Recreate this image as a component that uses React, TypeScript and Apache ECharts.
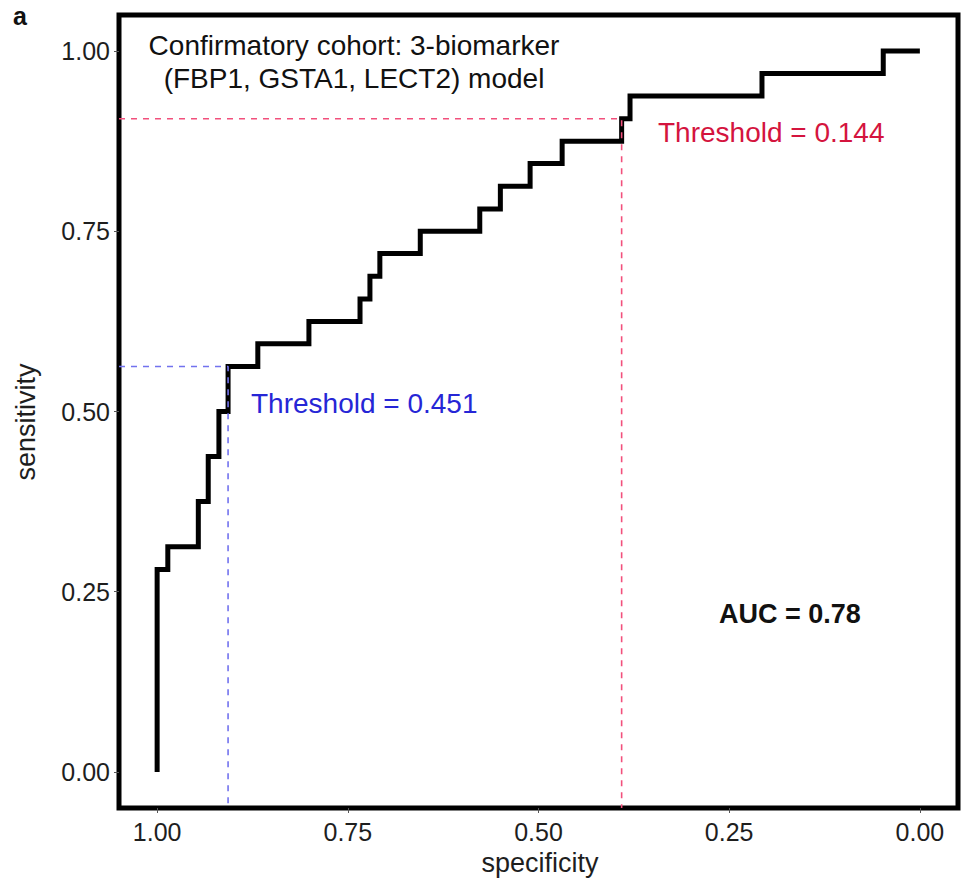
import React, { useEffect, useRef } from 'react';
import * as echarts from 'echarts';

// ---- data ----
const tickValues = [0, 0.25, 0.5, 0.75, 1];
// specificity at which each vertical riser of the ROC step curve occurs
const riserSpecificity = [1.0, 0.986, 0.946, 0.933, 0.919, 0.907, 0.868, 0.801, 0.734, 0.721, 0.708, 0.655, 0.577, 0.55, 0.511, 0.469, 0.391, 0.38, 0.207, 0.048];
// sensitivity level reached after each riser
const stepSensitivity = [0.281, 0.3125, 0.375, 0.4375, 0.5, 0.5625, 0.594, 0.625, 0.656, 0.6875, 0.719, 0.75, 0.781, 0.8125, 0.844, 0.875, 0.906, 0.9375, 0.969, 1.0];
const startSensitivity = 0;
const endSpecificity = 0;

const thresholdSpecificity = [0.907, 0.391];
const thresholdSensitivity = [0.5625, 0.906];
const thresholdLabels = ['Threshold = 0.451', 'Threshold = 0.144'];
const aucLabel = 'AUC = 0.78';
const titleLines = ['Confirmatory cohort: 3-biomarker', '(FBP1, GSTA1, LECT2) model'];
const panelLetter = 'a';
const xName = 'specificity';
const yName = 'sensitivity';

const FONT = '"Liberation Sans", Arial, Helvetica, sans-serif';
const AXMIN = -0.05;
const AXMAX = 1.05;

export default function App() {
  const ref = useRef<HTMLDivElement>(null);

  useEffect(() => {
    document.body.style.margin = '0';
    const chart = echarts.init(ref.current!, null, { renderer: 'svg' });

    const curve: number[][] = [[riserSpecificity[0], startSensitivity]];
    riserSpecificity.forEach((s, i) => {
      curve.push([s, stepSensitivity[i]]);
      const next = i + 1 < riserSpecificity.length ? riserSpecificity[i + 1] : endSpecificity;
      curve.push([next, stepSensitivity[i]]);
    });

    const thresholdColors = ['#7272ee', '#f2507c'];
    const labelColors = ['#2626d6', '#d4143e'];

    const dashSeries = thresholdSpecificity.map((sp, i) => ({
      type: 'line',
      data: [
        [AXMAX, thresholdSensitivity[i]],
        [sp, thresholdSensitivity[i]],
        [sp, AXMIN],
      ],
      symbol: 'none',
      silent: true,
      z: 3,
      lineStyle: { color: thresholdColors[i], width: 1.6, type: [6, 6] },
    }));

    const axisCommon = {
      type: 'value',
      min: AXMIN,
      max: AXMAX,
      axisLine: { show: false, onZero: false },
      splitLine: { show: false },
      axisTick: {
        show: true,
        inside: false,
        length: 5,
        customValues: tickValues,
        lineStyle: { color: '#555', width: 1 },
      },
      axisLabel: {
        customValues: tickValues,
        formatter: (v: number) => v.toFixed(2),
        fontSize: 25,
        fontFamily: FONT,
        color: '#1e1e1e',
      },
    };

    chart.setOption({
      animation: false,
      backgroundColor: '#ffffff',
      grid: {
        left: 119,
        right: 4,
        top: 15,
        bottom: 72,
        show: true,
        borderColor: '#000',
        borderWidth: 5,
        backgroundColor: '#fff',
      },
      xAxis: {
        ...axisCommon,
        inverse: true,
        axisLabel: { ...axisCommon.axisLabel, margin: 11 },
      },
      yAxis: {
        ...axisCommon,
        axisLabel: { ...axisCommon.axisLabel, margin: 9 },
      },
      series: [
        {
          type: 'line',
          data: curve,
          symbol: 'none',
          silent: true,
          z: 2,
          lineStyle: { color: '#000', width: 5, cap: 'butt', join: 'miter' },
        },
        ...dashSeries,
      ],
      graphic: [
        {
          type: 'text',
          left: 13,
          top: 3,
          style: { text: panelLetter, font: `bold 25px ${FONT}`, fill: '#111' },
        },
        {
          type: 'text',
          x: 354,
          y: 62,
          style: {
            text: titleLines.join('\n'),
            font: `28px ${FONT}`,
            fill: '#111',
            align: 'center',
            verticalAlign: 'middle',
            lineHeight: 33,
          },
        },
        {
          type: 'text',
          x: 251,
          y: 403,
          style: { text: thresholdLabels[0], font: `28px ${FONT}`, fill: labelColors[0], align: 'left', verticalAlign: 'middle' },
        },
        {
          type: 'text',
          x: 658,
          y: 132,
          style: { text: thresholdLabels[1], font: `28px ${FONT}`, fill: labelColors[1], align: 'left', verticalAlign: 'middle' },
        },
        {
          type: 'text',
          x: 719,
          y: 614,
          style: { text: aucLabel, font: `bold 27px ${FONT}`, fill: '#111', align: 'left', verticalAlign: 'middle' },
        },
        {
          type: 'text',
          x: 540,
          y: 863,
          style: { text: xName, font: `27px ${FONT}`, fill: '#1e1e1e', align: 'center', verticalAlign: 'middle' },
        },
        {
          type: 'text',
          x: 26,
          y: 422,
          rotation: Math.PI / 2,
          style: { text: yName, font: `27px ${FONT}`, fill: '#1e1e1e', align: 'center', verticalAlign: 'middle' },
        },
      ],
    });

    return () => chart.dispose();
  }, []);

  return <div ref={ref} style={{ width: 962, height: 880 }} />;
}
